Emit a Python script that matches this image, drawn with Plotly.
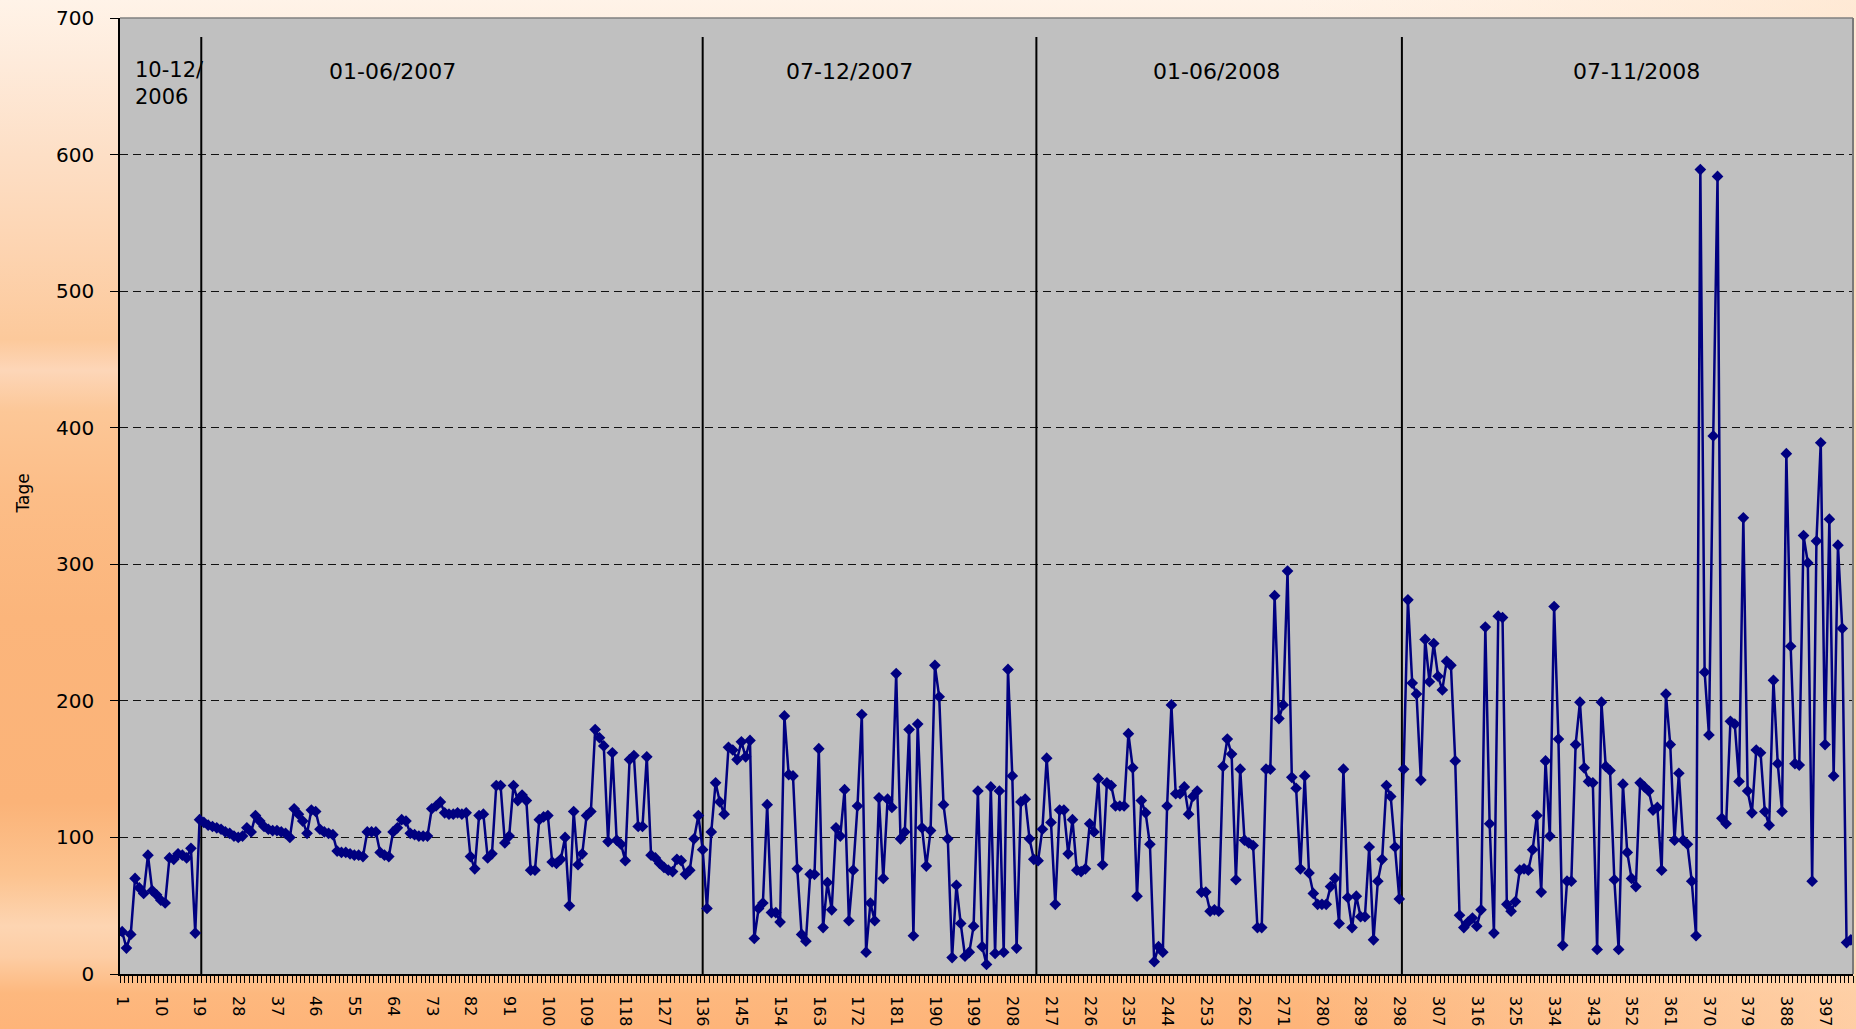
import base64
import plotly.graph_objects as go

# ---------------- data ----------------
tage_values = [
    31, 19, 29, 70, 63, 59, 87, 61, 58, 54, 52, 85, 84, 88, 87, 85, 92, 30, 113, 111,
    109, 108, 107, 106, 104, 103, 101, 100, 101, 107, 104, 116, 112, 108, 106, 105, 105, 104, 103, 100,
    121, 117, 112, 103, 120, 119, 106, 104, 103, 102, 90, 89, 89, 88, 87, 87, 86, 104, 104, 104,
    89, 87, 86, 104, 107, 113, 112, 103, 102, 101, 101, 101, 121, 123, 126, 118, 117, 117, 118, 117,
    118, 86, 77, 116, 117, 85, 88, 138, 138, 96, 101, 138, 127, 131, 127, 76, 76, 113, 115, 116,
    82, 81, 84, 100, 50, 119, 80, 88, 116, 119, 179, 173, 167, 97, 162, 98, 95, 83, 157, 160,
    108, 108, 159, 87, 85, 81, 78, 76, 75, 84, 83, 73, 76, 99, 116, 91, 48, 104, 140, 126,
    117, 166, 164, 157, 170, 159, 171, 26, 48, 52, 124, 45, 45, 38, 189, 146, 145, 77, 29, 24,
    73, 73, 165, 34, 67, 47, 107, 101, 135, 39, 76, 123, 190, 16, 52, 39, 129, 70, 128, 122,
    220, 99, 104, 179, 28, 183, 107, 79, 105, 226, 203, 124, 99, 12, 65, 37, 13, 16, 35, 134,
    20, 7, 137, 15, 134, 16, 223, 145, 19, 126, 128, 99, 84, 83, 106, 158, 111, 51, 120, 120,
    88, 113, 76, 75, 77, 110, 104, 143, 80, 140, 138, 123, 123, 123, 176, 151, 57, 127, 118, 95,
    9, 20, 16, 123, 197, 132, 132, 137, 117, 130, 134, 60, 60, 46, 47, 46, 152, 172, 161, 69,
    150, 98, 96, 94, 34, 34, 150, 150, 277, 187, 197, 295, 144, 136, 77, 145, 74, 59, 51, 51,
    51, 64, 70, 37, 150, 56, 34, 57, 42, 42, 93, 25, 68, 84, 138, 130, 93, 55, 150, 274,
    213, 205, 142, 245, 214, 242, 218, 208, 229, 226, 156, 43, 34, 38, 41, 35, 47, 254, 110, 30,
    262, 261, 51, 46, 53, 76, 77, 76, 91, 116, 60, 156, 101, 269, 172, 21, 68, 68, 168, 199,
    151, 141, 140, 18, 199, 152, 149, 69, 18, 139, 89, 70, 64, 140, 137, 134, 120, 122, 76, 205,
    168, 98, 147, 98, 95, 68, 28, 589, 221, 175, 394, 584, 114, 110, 185, 183, 141, 334, 134, 118,
    164, 162, 119, 109, 215, 154, 119, 381, 240, 154, 153, 321, 301, 68, 317, 389, 168, 333, 145, 314,
    253, 23, 25,
]
day_index = list(range(1, len(tage_values) + 1))
x_tick_values = list(range(1, len(tage_values) + 1, 9))
x_tick_labels = [str(v) for v in x_tick_values]
y_tick_values = list(range(0, 701, 100))

period_breaks = [19.4, 136.0, 213.6, 298.6]
period_labels = ["10-12/<br>2006", "01-06/2007", "07-12/2007", "01-06/2008", "07-11/2008"]
period_label_x = [3.6, 63.8, 170.2, 255.6, 353.2]

# ---------------- background gradient ----------------
W, H = 1856, 1029
v_stops = [
    (0.00, "#FFF3E8"), (0.06, "#FEEBDB"), (0.15, "#FDDFC6"), (0.25, "#FDD3AF"),
    (0.33, "#FCC99B"), (0.36, "#FDD6B8"), (0.40, "#FCC797"), (0.48, "#FCBD87"),
    (0.60, "#FBB57B"), (0.78, "#FBB378"), (0.85, "#FCC38F"), (0.90, "#FDD5B2"),
    (0.93, "#FDCDA4"), (0.965, "#FDB87E"), (1.00, "#FEB479"),
]
v_svg = "".join(f'<stop offset="{o}" stop-color="{c}"/>' for o, c in v_stops)
svg = f'''<svg xmlns="http://www.w3.org/2000/svg" width="{W}" height="{H}" viewBox="0 0 {W} {H}" preserveAspectRatio="none">
<defs>
<linearGradient id="v" x1="0" y1="0" x2="0" y2="1">{v_svg}</linearGradient>
<linearGradient id="h" x1="0" y1="0" x2="1" y2="0">
<stop offset="0" stop-color="#FFE6CE" stop-opacity="0"/>
<stop offset="0.7" stop-color="#FFE6CE" stop-opacity="0"/>
<stop offset="1" stop-color="#FFE2C6" stop-opacity="0.55"/>
</linearGradient>
</defs>
<rect width="{W}" height="{H}" fill="url(#v)"/>
<rect width="{W}" height="{H}" fill="url(#h)"/>
</svg>'''
bg_src = "data:image/svg+xml;base64," + base64.b64encode(svg.encode()).decode()

ML, MR, MT, MB = 120, 3, 18, 55
PW, PH = W - ML - MR, H - MT - MB

fig = go.Figure()
fig.add_trace(go.Scatter(
    x=day_index, y=tage_values, mode="lines+markers",
    line=dict(color="#000080", width=2.5),
    marker=dict(symbol="diamond", size=9, color="#000080"),
    hoverinfo="x+y", showlegend=False,
))

shapes = [
    dict(type="rect", xref="paper", yref="paper", x0=0, x1=1, y0=0, y1=1,
         fillcolor="#C0C0C0", line=dict(width=0), layer="below"),
    dict(type="line", xref="paper", yref="paper", x0=0, x1=1, y0=1, y1=1,
         line=dict(color="#808080", width=1.5), layer="above"),
    dict(type="line", xref="paper", yref="paper", x0=1, x1=1, y0=0, y1=1,
         line=dict(color="#7A7A7A", width=2), layer="above"),
]
for b in period_breaks:
    shapes.append(dict(type="line", xref="x", yref="y", x0=b, x1=b, y0=0, y1=686,
                       line=dict(color="black", width=2), layer="between"))

annotations = []
for i, (lab, lx) in enumerate(zip(period_labels, period_label_x)):
    if i == 0:
        annotations.append(dict(x=lx, y=652, xref="x", yref="y", text=lab, showarrow=False,
                                xanchor="left", yanchor="middle", align="left",
                                font=dict(family="DejaVu Sans", size=21, color="black")))
    else:
        annotations.append(dict(x=lx, y=661, xref="x", yref="y", text=lab, showarrow=False,
                                xanchor="center", yanchor="middle",
                                font=dict(family="DejaVu Sans", size=22, color="black")))
annotations.append(dict(x=(23 - ML) / PW, y=0.5025, xref="paper", yref="paper", text="Tage",
                        showarrow=False, textangle=-90, xanchor="center", yanchor="middle",
                        font=dict(family="DejaVu Sans", size=17, color="black")))

fig.update_layout(
    width=W, height=H,
    margin=dict(l=ML, r=MR, t=MT, b=MB, pad=0),
    paper_bgcolor="#FFC89A",
    plot_bgcolor="rgba(0,0,0,0)",
    images=[dict(source=bg_src, xref="paper", yref="paper",
                 x=-ML / PW, y=1 + MT / PH, sizex=W / PW, sizey=H / PH,
                 sizing="stretch", layer="below", xanchor="left", yanchor="top")],
    shapes=shapes,
    annotations=annotations,
    xaxis=dict(
        range=[0.5, len(tage_values) + 0.5],
        tickmode="array", tickvals=x_tick_values, ticktext=x_tick_labels,
        tickangle=90, ticks="", ticklabelstandoff=17,
        tickfont=dict(family="DejaVu Sans", size=16, color="black"),
        showline=True, linecolor="black", linewidth=1.5,
        showgrid=False, zeroline=False,
        minor=dict(tickmode="linear", tick0=0.5, dtick=1, ticks="outside",
                   ticklen=7, tickcolor="black", tickwidth=1, showgrid=False),
    ),
    yaxis=dict(
        range=[0, 700], tickmode="array", tickvals=y_tick_values,
        ticks="outside", ticklen=8, tickcolor="black", ticklabelstandoff=12,
        tickfont=dict(family="DejaVu Sans", size=20, color="black"),
        showline=True, linecolor="black", linewidth=1.5,
        showgrid=True, gridcolor="#111111", gridwidth=1, griddash="8px,5px",
        zeroline=False,
    ),
)

fig.write_html("out.html", include_plotlyjs=True, config={"displayModeBar": False},
               post_script="document.body.style.margin='0';document.body.style.overflow='hidden';")
